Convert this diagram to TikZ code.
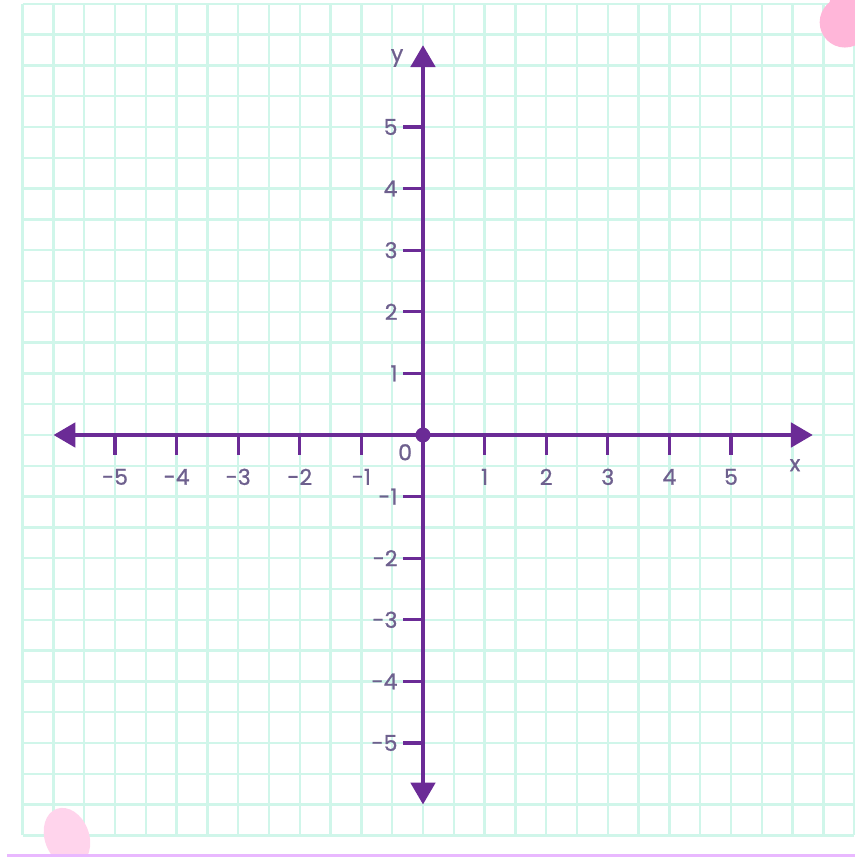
\documentclass[tikz,border=0pt]{standalone}
\usepackage{fontspec}
\newfontfamily\lblfont[FakeBold=1]{Poppins}
\usetikzlibrary{arrows.meta}
\definecolor{gridmint}{RGB}{208,246,234}
\definecolor{axpurple}{RGB}{107,43,150}
\definecolor{lblgray}{RGB}{110,96,142}
\definecolor{blobpink}{RGB}{255,182,217}
\definecolor{blobpale}{RGB}{255,212,236}
\definecolor{edgeviolet}{RGB}{233,184,255}

\begin{document}
\begin{tikzpicture}[x=1.232cm, y=1.232cm, font=\lblfont\fontsize{12.5}{14}\selectfont,
  gridline/.style={draw=gridmint, line width=1.4pt},
  axis/.style={draw=axpurple, line width=2.8pt, {Triangle[length=4.4mm,width=4.8mm]}-{Triangle[length=4.4mm,width=4.8mm]}},
  tickmark/.style={draw=axpurple, line width=1.8pt},
  lbl/.style={text=lblgray, inner sep=1pt}]
\useasboundingbox (-6.867,-6.851) rectangle (7.013,7.062);
\clip (-6.867,-6.851) rectangle (7.013,7.062);
\draw[gridline] (-6.5,-6.5) grid[step=0.5] (7,7);
% corner blobs
\fill[blobpink] (6.85,6.70) circle[radius=0.41];
\fill[blobpink] (7.05,7.0) circle[radius=0.45];
\fill[blobpale, rotate around={20:(-5.78,-6.53)}] (-5.78,-6.53) ellipse[x radius=0.36, y radius=0.49];
\draw[edgeviolet, line width=1.7pt] (-6.75,-6.83) -- (7.013,-6.83);
% axes
\coordinate (xl) at (-6,0);
\coordinate (xr) at (6.33,0);
\coordinate (yb) at (0,-6);
\coordinate (yt) at (0,6.33);
\draw[axis] (xl) -- (xr);
\draw[axis] (yb) -- (yt);
\node[circle, fill=axpurple, inner sep=0, minimum size=3mm] (o) at (0,0) {};
\foreach \i in {-5,-4,-3,-2,-1,1,2,3,4,5} {
  \draw[tickmark] (\i,0) -- ++(0,-0.32);
  \node[lbl] (xn\i) at (\i,-0.68) {\i};
  \draw[tickmark] (0,\i) -- ++(-0.32,0);
  \node[lbl, anchor=east] (yn\i) at (-0.38,\i) {\i};
}
\node[lbl] (zero) at (-0.29,-0.28) {0};
\node[lbl] (xname) at (6.04,-0.49) {x};
\node[lbl] (yname) at (-0.42,6.12) {y};
\end{tikzpicture}
\end{document}
